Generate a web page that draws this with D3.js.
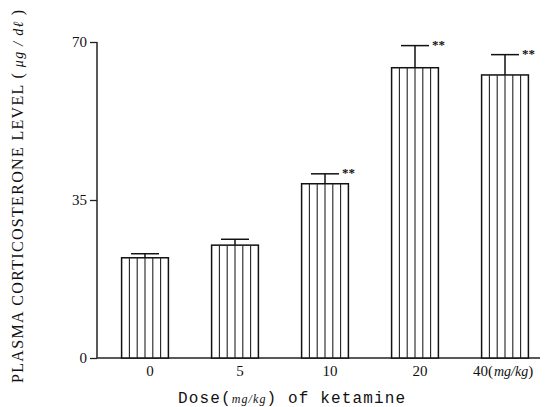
<!DOCTYPE html>
<html>
<head>
<meta charset="utf-8">
<script src="https://cdn.jsdelivr.net/npm/d3@7"></script>
<style>
  body { margin: 0; background: #fff; }
  text { font-family: "Liberation Serif", "DejaVu Serif", serif; fill: #111; }
</style>
</head>
<body>
<script>
var w = 547; // width of SVG space
var h = 407; // height of SVG space

// data
var doses = ["0", "5", "10", "20", "40"];
var means = [22.2, 25.0, 38.6, 64.3, 62.7];
var errors = [0.9, 1.3, 2.2, 4.9, 4.5];
var signif = ["", "", "**", "**", "**"];
var yTicks = [0, 35, 70];

var svg = d3.select("body").append("svg").attr("width", w).attr("height", h);

var x = d3.scaleBand().domain(doses).range([100, 550]).paddingInner(0.48).paddingOuter(0.24);
var y = d3.scaleLinear().domain([0, 70]).range([358, 42]);

// y axis
var yAxis = d3.axisLeft(y).tickValues(yTicks).tickSize(7).tickPadding(3);
var gy = svg.append("g").attr("transform", "translate(97,0)").call(yAxis);
gy.select(".domain").attr("stroke", "#222").attr("stroke-width", 1.5).attr("d", "M0," + y(70) + "V" + y(0));
gy.selectAll(".tick line").attr("stroke", "#222").attr("stroke-width", 1.3);
gy.selectAll(".tick text").style("font-size", "15px").attr("fill", "#222").attr("dy", "0.32em");

// baseline
svg.append("line").attr("x1", 97).attr("x2", 540).attr("y1", y(0)).attr("y2", y(0))
  .attr("stroke", "#222").attr("stroke-width", 1.5);

var rows = doses.map(function (d, i) { return { dose: d, mean: means[i], err: errors[i], sig: signif[i] }; });

var bars = svg.selectAll("g.bar").data(rows).enter().append("g").attr("class", "bar");

bars.append("rect")
  .attr("x", function (d) { return x(d.dose); })
  .attr("y", function (d) { return y(d.mean); })
  .attr("width", x.bandwidth())
  .attr("height", function (d) { return y(0) - y(d.mean); })
  .attr("fill", "#fff").attr("stroke", "#111").attr("stroke-width", 1.5);

// vertical hatch lines inside each bar
bars.each(function (d) {
  var g = d3.select(this);
  var n = 6;
  for (var k = 1; k < n; k++) {
    var xx = x(d.dose) + k * x.bandwidth() / n;
    g.append("line").attr("x1", xx).attr("x2", xx)
      .attr("y1", y(d.mean)).attr("y2", y(0))
      .attr("stroke", "#222").attr("stroke-width", 1.1);
  }
});

// error bars (upper only)
bars.append("line")
  .attr("x1", function (d) { return x(d.dose) + x.bandwidth() / 2; })
  .attr("x2", function (d) { return x(d.dose) + x.bandwidth() / 2; })
  .attr("y1", function (d) { return y(d.mean); })
  .attr("y2", function (d) { return y(d.mean + d.err); })
  .attr("stroke", "#111").attr("stroke-width", 1.5);
bars.append("line")
  .attr("x1", function (d) { return x(d.dose) + x.bandwidth() / 2 - 14; })
  .attr("x2", function (d) { return x(d.dose) + x.bandwidth() / 2 + 14; })
  .attr("y1", function (d) { return y(d.mean + d.err); })
  .attr("y2", function (d) { return y(d.mean + d.err); })
  .attr("stroke", "#111").attr("stroke-width", 1.5);

// significance stars
bars.append("text")
  .attr("x", function (d) { return x(d.dose) + x.bandwidth() / 2 + 17; })
  .attr("y", function (d) { return y(d.mean + d.err) + 3; })
  .style("font-size", "13px").style("font-weight", "bold")
  .text(function (d) { return d.sig; });

// x tick labels
var xl = svg.selectAll("text.xlab").data(doses).enter().append("text").attr("class", "xlab")
  .attr("x", function (d) { return x(d) + x.bandwidth() / 2 + 5; })
  .attr("y", 376)
  .attr("text-anchor", function (d) { return d === "40" ? "start" : "middle"; })
  .attr("dx", function (d) { return d === "40" ? -37 : 0; })
  .style("font-size", "15px");
xl.append("tspan").text(function (d) { return d; });
xl.filter(function (d) { return d === "40"; }).each(function () {
  var t = d3.select(this);
  t.append("tspan").text("(");
  t.append("tspan").style("font-style", "italic").style("font-size", "14px").attr("dx", 1).text("mg/kg");
  t.append("tspan").text(")");
});

// x axis title
var xt = svg.append("text").attr("x", 178).attr("y", 403)
  .attr("textLength", 227).attr("lengthAdjust", "spacing")
  .style("font-family", "'Liberation Mono', 'DejaVu Sans Mono', monospace").style("font-size", "16px");
xt.append("tspan").text("Dose(");
xt.append("tspan").style("font-family", "'Liberation Serif', serif").style("font-style", "italic").style("font-size", "12px").text("mg/kg");
xt.append("tspan").text(")  of ketamine");

// y axis title
var yt = svg.append("text").attr("transform", "translate(23,383) rotate(-90)")
  .attr("textLength", 373).attr("lengthAdjust", "spacing")
  .style("font-size", "16px");
yt.append("tspan").text("PLASMA CORTICOSTERONE LEVEL (");
yt.append("tspan").style("font-style", "italic").style("font-size", "14px").text(" μg / dℓ ");
yt.append("tspan").text(")");
</script>
</body>
</html>
